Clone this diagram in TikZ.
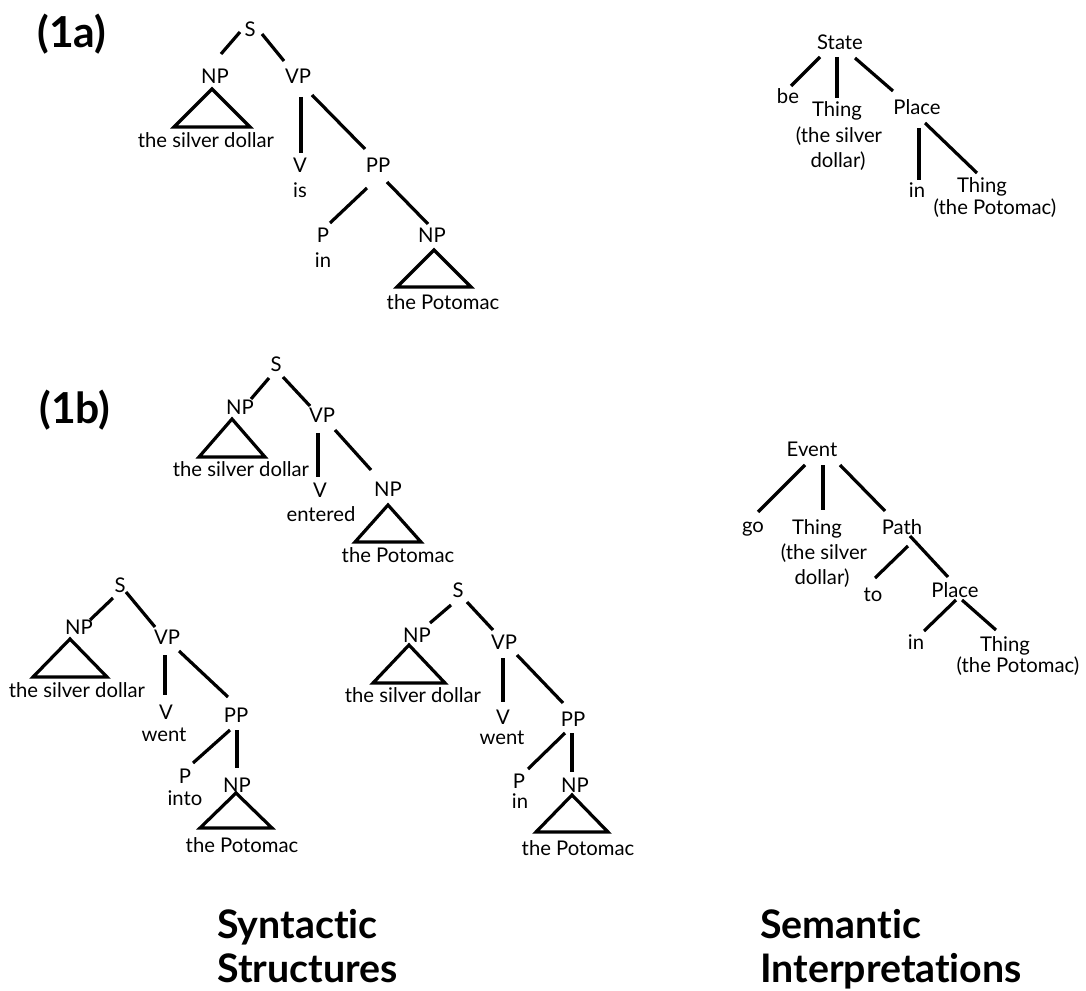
\documentclass[tikz,border=0pt]{standalone}
\usepackage{fontspec}
\setmainfont{Lato}[Ligatures=NoCommon]
\newcommand\edgeAB[6]{\draw[edge] ([shift={(#2,#3)}]#1.center) -- ([shift={(#5,#6)}]#4.center);}
\newcommand\triAB[5]{\draw[edge,line join=miter] ([shift={(#2,#3)}]#1.center) -- ++(-#4,#5) -- ++(2*#4,0) -- cycle;}
\begin{document}
\begin{tikzpicture}[x=0.75pt,y=-0.75pt,
  lbl/.style={inner sep=0pt,font=\fontsize{15.2}{17}\selectfont,text height=1.5ex,text depth=0.25ex},
  edge/.style={line width=2.4pt,line cap=butt},
  big/.style={inner sep=0pt,font=\fontsize{32}{36}\bfseries\selectfont},
  captxt/.style={inner sep=0pt,anchor=base west,font=\fontsize{29.5}{32}\bfseries\selectfont}]
\useasboundingbox (0,0) rectangle (1086,991);

% ---- labels
\node[big] (l1a) at (72,34) {(1a)};
\node[big] (l1b) at (75,410) {(1b)};
\node[captxt] (syn1) at (217,938) {Syntactic};
\node[captxt] (syn2) at (217,982) {Structures};
\node[captxt] (sem1) at (760,938) {Semantic};
\node[captxt] (sem2) at (760,982) {Interpretations};

% ---- tree 1a
\node[lbl] (S1) at (250,32) {S};
\node[lbl] (NP1) at (215,79) {NP};
\node[lbl] (VP1) at (298,79) {VP};
\node[lbl] (sd1) at (206,143) {the silver dollar};
\node[lbl] (V1) at (300,168) {V};
\node[lbl] (is1) at (300,193) {is};
\node[lbl] (PP1) at (378,168) {PP};
\node[lbl] (P1) at (323,238) {P};
\node[lbl] (in1) at (323,263) {in};
\node[lbl] (NP1b) at (432,238) {NP};
\node[lbl] (pot1) at (443,305) {the Potomac};
\edgeAB{S1}{-10}{0}{NP1}{6}{-25}
\edgeAB{S1}{12}{2}{VP1}{-14}{-18}
\edgeAB{VP1}{3}{18}{V1}{1}{-15}
\edgeAB{VP1}{14}{16}{PP1}{-13}{-19}
\edgeAB{PP1}{-11}{20}{P1}{7}{-15}
\edgeAB{PP1}{9}{14}{NP1b}{-4}{-14}
\triAB{NP1}{-3}{10}{38}{38}
\triAB{NP1b}{2}{12}{37}{37}

% ---- semantic 1a
\node[lbl] (State) at (840,45) {State};
\node[lbl] (be) at (788,99) {be};
\node[lbl] (Th1) at (837,112) {Thing};
\node[lbl] (Th1b) at (839,138) {(the silver};
\node[lbl] (Th1c) at (838,163) {dollar)};
\node[lbl] (Place1) at (917,110) {Place};
\node[lbl] (in2) at (917,193) {in};
\node[lbl] (Th2) at (982,188) {Thing};
\node[lbl] (Th2b) at (995,210) {(the Potomac)};
\edgeAB{State}{-20}{12}{be}{3}{-13}
\edgeAB{State}{-3}{12}{Th1}{0}{-14}
\edgeAB{State}{15}{13}{Place1}{-24}{-19}
\edgeAB{Place1}{2}{18}{in2}{2}{-13}
\edgeAB{Place1}{8}{13}{Th2}{-5}{-15}

% ---- tree 1b top
\node[lbl] (S2) at (276,367) {S};
\node[lbl] (NP2) at (240,410) {NP};
\node[lbl] (VP2) at (322,418) {VP};
\node[lbl] (sd2) at (241,472) {the silver dollar};
\node[lbl] (V2) at (320,493) {V};
\node[lbl] (ent2) at (321,517) {entered};
\node[lbl] (NP2b) at (388,492) {NP};
\node[lbl] (pot2) at (398,558) {the Potomac};
\edgeAB{S2}{-7}{11}{NP2}{11}{-11}
\edgeAB{S2}{7}{10}{VP2}{-12}{-12}
\edgeAB{VP2}{-4}{15}{V2}{-2}{-16}
\edgeAB{VP2}{13}{12}{NP2b}{-17}{-22}
\triAB{NP2}{-8}{9}{33}{38}
\triAB{NP2b}{0}{13}{33}{37}

% ---- tree 1b bottom left
\node[lbl] (S3) at (120,588) {S};
\node[lbl] (NP3) at (79,630) {NP};
\node[lbl] (VP3) at (167,640) {VP};
\node[lbl] (sd3) at (77,693) {the silver dollar};
\node[lbl] (V3) at (166,715) {V};
\node[lbl] (went3) at (164,737) {went};
\node[lbl] (PP3) at (236,718) {PP};
\node[lbl] (P3) at (185,779) {P};
\node[lbl] (into3) at (185,801) {into};
\node[lbl] (NP3b) at (237,788) {NP};
\node[lbl] (pot3) at (242,848) {the Potomac};
\edgeAB{S3}{-7}{10}{NP3}{11}{-10}
\edgeAB{S3}{6}{4}{VP3}{-12}{-13}
\edgeAB{VP3}{-2}{15}{V3}{-1}{-20}
\edgeAB{VP3}{12}{11}{PP3}{-8}{-21}
\edgeAB{PP3}{-6}{12}{P3}{8}{-16}
\edgeAB{PP3}{1}{12}{NP3b}{0}{-20}
\triAB{NP3}{-9}{9}{37}{38}
\triAB{NP3b}{-1}{5}{36}{35}

% ---- tree 1b bottom middle
\node[lbl] (S4) at (458,593) {S};
\node[lbl] (NP4) at (417,638) {NP};
\node[lbl] (VP4) at (504,645) {VP};
\node[lbl] (sd4) at (413,698) {the silver dollar};
\node[lbl] (V4) at (503,720) {V};
\node[lbl] (went4) at (502,740) {went};
\node[lbl] (PP4) at (573,722) {PP};
\node[lbl] (P4) at (519,784) {P};
\node[lbl] (in4) at (520,804) {in};
\node[lbl] (NP4b) at (575,788) {NP};
\node[lbl] (pot4) at (578,851) {the Potomac};
\edgeAB{S4}{-7}{12}{NP4}{13}{-15}
\edgeAB{S4}{9}{9}{VP4}{-11}{-15}
\edgeAB{VP4}{-1}{13}{V4}{0}{-18}
\edgeAB{VP4}{13}{10}{PP4}{-10}{-19}
\edgeAB{PP4}{-8}{11}{P4}{9}{-15}
\edgeAB{PP4}{-1}{11}{NP4b}{-3}{-16}
\triAB{NP4}{-8}{7}{36}{38}
\triAB{NP4b}{-3}{7}{36}{37}

% ---- semantic 1b
\node[lbl] (Event) at (812,452) {Event};
\node[lbl] (go) at (753,528) {go};
\node[lbl] (Th3) at (817,530) {Thing};
\node[lbl] (Th3b) at (824,555) {(the silver};
\node[lbl] (Th3c) at (822,580) {dollar)};
\node[lbl] (Path) at (902,530) {Path};
\node[lbl] (to) at (873,597) {to};
\node[lbl] (Place2) at (955,593) {Place};
\node[lbl] (in3) at (916,645) {in};
\node[lbl] (Th4) at (1005,647) {Thing};
\node[lbl] (Th4b) at (1018,668) {(the Potomac)};
\edgeAB{Event}{-7}{13}{go}{5}{-16}
\edgeAB{Event}{11}{13}{Th3}{6}{-20}
\edgeAB{Event}{28}{13}{Path}{-17}{-19}
\edgeAB{Path}{6}{16}{to}{2}{-19}
\edgeAB{Path}{8}{6}{Place2}{-7}{-16}
\edgeAB{Place2}{1}{7}{in3}{8}{-14}
\edgeAB{Place2}{7}{7}{Th4}{-9}{-17}
\end{tikzpicture}
\end{document}
